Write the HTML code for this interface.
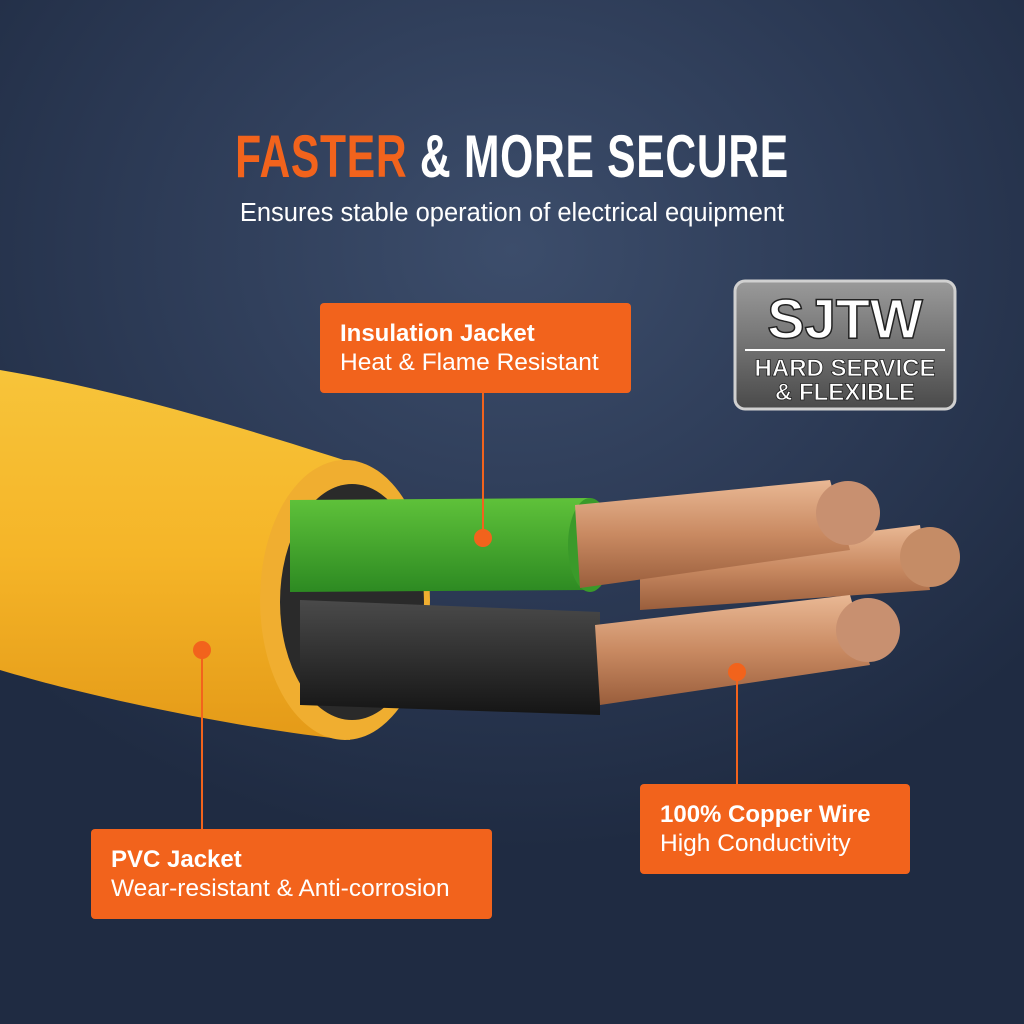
<!DOCTYPE html>
<html><head><meta charset="utf-8"><style>
body{margin:0;width:1024px;height:1024px;overflow:hidden;font-family:"Liberation Sans",sans-serif}
.bg{position:absolute;inset:0;background:radial-gradient(ellipse 700px 600px at 512px 250px,#3c4d6b 0%,#2c3a55 55%,#1f2b42 100%)}
.t{position:absolute;left:0;width:1024px;text-align:center;top:122px;font-size:60px;font-weight:bold;color:#fff;letter-spacing:1px;transform:scaleX(0.71);transform-origin:512px 0}
.s{position:absolute;left:0;width:1024px;text-align:center;top:199px;font-size:25.5px;color:#fff}
.box{position:absolute;background:#f2631c;border-radius:4px;color:#fff;font-size:24.5px;line-height:29px;padding:16px 20px;box-sizing:border-box;white-space:nowrap}
.box b{font-size:24px}
</style></head><body>
<div class="bg"></div>
<svg width="1024" height="1024" style="position:absolute;left:0;top:0">
<defs>
<linearGradient id="y" x1="0" y1="0" x2="0" y2="1"><stop offset="0" stop-color="#f7c43a"/><stop offset="0.5" stop-color="#f5b528"/><stop offset="1" stop-color="#e49a18"/></linearGradient>
<linearGradient id="g" x1="0" y1="0" x2="0" y2="1"><stop offset="0" stop-color="#5fc23a"/><stop offset="1" stop-color="#2d8a22"/></linearGradient>
<linearGradient id="k" x1="0" y1="0" x2="0" y2="1"><stop offset="0" stop-color="#4a4a4a"/><stop offset="1" stop-color="#151515"/></linearGradient>
<linearGradient id="c" x1="0" y1="0" x2="0" y2="1"><stop offset="0" stop-color="#e9b894"/><stop offset="0.5" stop-color="#c98a62"/><stop offset="1" stop-color="#9a5e3c"/></linearGradient>
<linearGradient id="b" x1="0" y1="0" x2="0" y2="1"><stop offset="0" stop-color="#9a9a9a"/><stop offset="1" stop-color="#4a4a4a"/></linearGradient>
</defs>
<path d="M0 370 C120 390 250 430 350 462 L350 740 C250 730 100 700 0 670 Z" fill="url(#y)"/>
<ellipse cx="345" cy="600" rx="85" ry="140" fill="#f0ae30"/>
<ellipse cx="352" cy="602" rx="72" ry="118" fill="#2a2a2a"/>
<path d="M290 500 L590 498 L590 590 L290 592 Z" fill="url(#g)"/>
<ellipse cx="590" cy="545" rx="22" ry="47" fill="#3a9a2a"/>
<path d="M640 560 L920 525 L930 590 L640 610 Z" fill="url(#c)"/>
<circle cx="930" cy="557" r="30" fill="#c58c66"/>
<path d="M575 505 L830 480 L850 550 L580 588 Z" fill="url(#c)"/>
<circle cx="848" cy="513" r="32" fill="#c89070"/>
<path d="M300 600 L600 612 L600 715 L300 705 Z" fill="url(#k)"/>
<path d="M595 625 L850 595 L870 665 L600 705 Z" fill="url(#c)"/>
<circle cx="868" cy="630" r="32" fill="#c89070"/>
<rect x="735" y="281" width="220" height="128" rx="10" fill="url(#b)" stroke="#d0d0d0" stroke-width="3"/>
<text x="845" y="338" text-anchor="middle" font-family="Liberation Sans" font-weight="bold" font-size="56" fill="#fff" stroke="#222" stroke-width="1.5">SJTW</text>
<line x1="745" y1="350" x2="945" y2="350" stroke="#fff" stroke-width="2"/>
<text x="845" y="376" text-anchor="middle" font-family="Liberation Sans" font-weight="bold" font-size="24" fill="#fff" stroke="#222" stroke-width="0.8">HARD SERVICE</text>
<text x="845" y="400" text-anchor="middle" font-family="Liberation Sans" font-weight="bold" font-size="24" fill="#fff" stroke="#222" stroke-width="0.8">&amp; FLEXIBLE</text>
<g stroke="#f2631c" stroke-width="2" fill="#f2631c">
<line x1="483" y1="393" x2="483" y2="538"/><circle cx="483" cy="538" r="8"/>
<line x1="202" y1="650" x2="202" y2="829"/><circle cx="202" cy="650" r="8"/>
<line x1="737" y1="672" x2="737" y2="784"/><circle cx="737" cy="672" r="8"/>
</g>
</svg>
<div class="t"><span style="color:#f2631c">FASTER</span> &amp; MORE SECURE</div>
<div class="s">Ensures stable operation of electrical equipment</div>
<div class="box" style="left:320px;top:303px;width:311px;height:90px"><b>Insulation Jacket</b><br>Heat &amp; Flame Resistant</div>
<div class="box" style="left:91px;top:829px;width:401px;height:90px"><b>PVC Jacket</b><br>Wear-resistant &amp; Anti-corrosion</div>
<div class="box" style="left:640px;top:784px;width:270px;height:90px"><b>100% Copper Wire</b><br>High Conductivity</div>
</body></html>
